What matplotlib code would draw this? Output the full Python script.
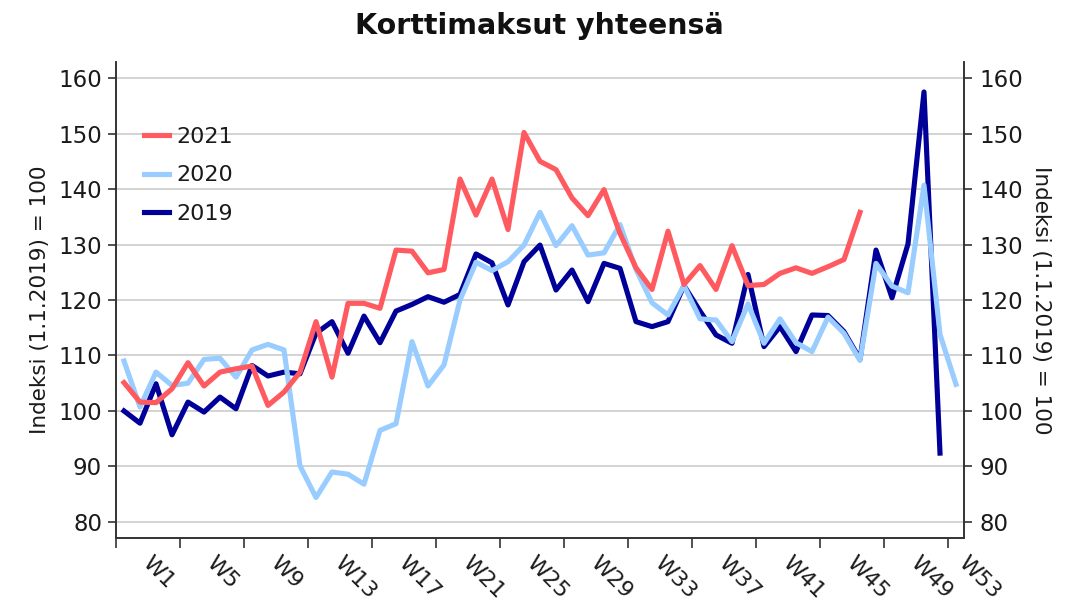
import matplotlib
matplotlib.use("Agg")
import matplotlib.pyplot as plt
import numpy as np

plt.rcParams['font.family'] = ['DejaVu Sans']

title = "Korttimaksut yhteensä"
ylabel = "Indeksi (1.1.2019) = 100"

week_label_pos = [1, 5, 9, 13, 17, 21, 25, 29, 33, 37, 41, 45, 49, 52]
week_labels = ["W1", "W5", "W9", "W13", "W17", "W21", "W25", "W29", "W33",
               "W37", "W41", "W45", "W49", "W53"]

s2019 = [100, 97.8, 104.9, 95.7, 101.6, 99.8, 102.5, 100.4,
         108.2, 106.3, 107, 106.7, 114, 116.1, 110.4, 117.1,
         112.3, 118, 119.2, 120.6, 119.6, 121, 128.3, 126.7,
         119.1, 126.9, 129.9, 121.8, 125.4, 119.7, 126.6, 125.7,
         116.1, 115.2, 116.1, 122.6, 118, 113.7, 112.2, 124.6,
         111.6, 115.2, 110.7, 117.3, 117.2, 114.3, 109.3, 129.0,
         120.4, 130.1, 157.5, 92.4]

s2020 = [109, 100.7, 107, 104.6, 105, 109.3, 109.5, 106.1,
         111, 112, 111, 90.1, 84.4, 89, 88.6, 86.8,
         96.5, 97.7, 112.5, 104.5, 108.3, 120, 126.8, 125.3,
         126.9, 129.9, 135.8, 129.8, 133.4, 128.1, 128.5, 133.6,
         125.5, 119.5, 117.3, 122.6, 116.6, 116.4, 112.5, 119.3,
         112.2, 116.6, 112.3, 110.7, 116.9, 114, 109.1, 126.6,
         122.5, 121.3, 140.7, 113.8, 104.8]

s2021 = [105.1, 101.6, 101.5, 104, 108.7, 104.5, 107, 107.6,
         108.1, 101, 103.4, 107, 116.1, 106.1, 119.4, 119.4,
         118.5, 129, 128.8, 124.9, 125.5, 141.8, 135.3, 141.8,
         132.7, 150.2, 145, 143.5, 138.4, 135.2, 139.9, 132,
         125.8, 121.9, 132.4, 122.8, 126.2, 121.9, 129.8, 122.6,
         122.8, 124.8, 125.8, 124.8, 126, 127.3, 135.8]

yticks = [80, 90, 100, 110, 120, 130, 140, 150, 160]

c2021 = "#FF5A5F"
c2020 = "#99CCFF"
c2019 = "#000099"
txt = "#1a1a1a"
axc = "#333333"

fig = plt.figure(figsize=(10.78, 6.06), dpi=100)
ax = fig.add_axes([116/1078, 1-538/606, (964-116)/1078, (538-62)/606])
ax2 = ax.twinx()

lw = 3.7
ax.plot(np.arange(len(s2019)), s2019, color=c2019, lw=lw, label="2019", zorder=3)
ax.plot(np.arange(len(s2020)), s2020, color=c2020, lw=lw, label="2020", zorder=4)
ax.plot(np.arange(len(s2021)), s2021, color=c2021, lw=lw, label="2021", zorder=5)

ax.set_xlim(-0.5, 52.5)
ylim = (77.1, 162.9)
ax.set_ylim(*ylim)
ax2.set_ylim(*ylim)
ax.set_yticks(yticks)
ax2.set_yticks(yticks)
ax.yaxis.grid(True, color="#d0d0d0", lw=1.3)
ax.set_axisbelow(True)
for a in (ax, ax2):
    a.spines["top"].set_visible(False)
    for s in ["left", "right", "bottom"]:
        a.spines[s].set_color(axc)
        a.spines[s].set_linewidth(1.2)

ax.tick_params(axis='y', labelsize=16.5, colors=txt, length=6, width=1.2,
               direction='out', pad=4)
ax2.tick_params(axis='y', labelsize=16.5, colors=txt, length=6, width=1.2,
                direction='out', pad=5)
ax.tick_params(axis='y', color=axc)
ax2.tick_params(axis='y', color=axc)

xt = np.arange(-0.5, 52.0, 4)
ax.set_xticks(xt)
ax.set_xticklabels([])
ax.tick_params(axis='x', length=7, width=1.2, color=axc, direction='out')

for p, lab in zip(week_label_pos, week_labels):
    ax.text(p + 0.35, -0.045, lab, transform=ax.get_xaxis_transform(),
            rotation=-45, rotation_mode='anchor', ha='left', va='center',
            fontsize=16, color=txt)

ax.set_ylabel(ylabel, fontsize=15.5, color=txt, labelpad=6)
ax2.set_ylabel(ylabel, fontsize=15.5, color=txt, rotation=-90, labelpad=20)

h, l = ax.get_legend_handles_labels()
order = [2, 1, 0]
leg = ax.legend([h[i] for i in order], [l[i] for i in order], loc='upper left',
                bbox_to_anchor=(0.01, 0.905), frameon=False, fontsize=16,
                handlelength=1.1, handletextpad=0.35, labelspacing=0.82)
for t in leg.get_texts():
    t.set_color(txt)

fig.text(0.5, 0.957, title, ha='center', va='center', fontsize=20.5,
         fontweight='bold', color="#111111")

fig.savefig("out.png", dpi=100)
